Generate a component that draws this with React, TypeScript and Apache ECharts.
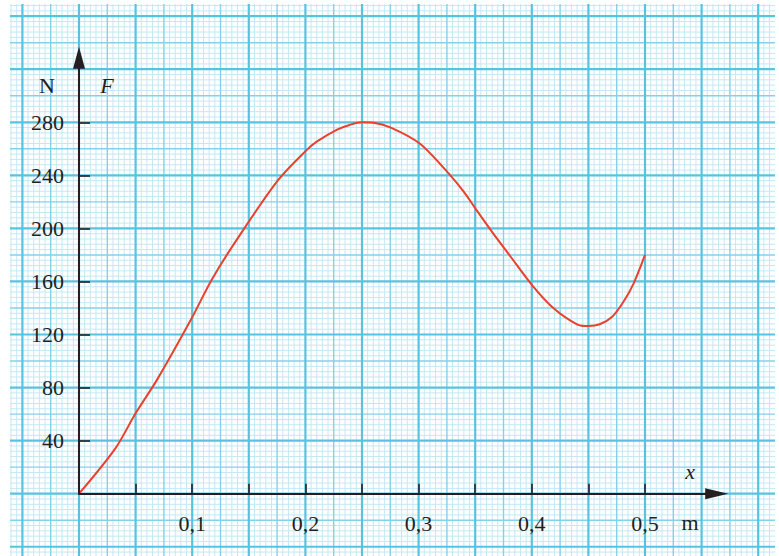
import React, { useEffect, useRef } from "react";
import * as echarts from "echarts";

// ---- data (x in m, F in N) ----
const X_M = [0, 0.032, 0.05, 0.069, 0.1, 0.117, 0.139, 0.176, 0.201, 0.21, 0.228, 0.239, 0.25, 0.26, 0.275, 0.301, 0.328, 0.34, 0.351, 0.366, 0.381, 0.4, 0.419, 0.44, 0.45, 0.46, 0.471, 0.481, 0.49, 0.5];
const F_N = [0, 34, 60.6, 86, 133, 161, 191, 236.5, 259, 265.4, 274.5, 278, 280, 279.7, 276.2, 264, 240, 227.5, 214, 196, 179, 157.5, 140, 127.7, 126.4, 127.7, 133.4, 144.7, 158.6, 180];
const Y_TICKS = [40, 80, 120, 160, 200, 240, 280];
const X_TICKS = [0.05, 0.1, 0.15, 0.2, 0.25, 0.3, 0.35, 0.4, 0.45, 0.5];
const X_LABELS = [0.1, 0.2, 0.3, 0.4, 0.5];

// ---- layout (pixels) ----
const ORIGIN_X = 79;
const ORIGIN_Y = 493.7;
const PX_PER_M = 1132;
const PX_PER_N = 1.3265;
const PAPER = { left: 10, top: 4, right: 775, bottom: 556 };
const X_ARROW_CENTER = 716.7;
const Y_ARROW_CENTER = 57.8;

const xOf = (px: number) => (px - ORIGIN_X) / PX_PER_M;
const yOf = (py: number) => (ORIGIN_Y - py) / PX_PER_N;

const P_XMIN = xOf(PAPER.left);
const P_XMAX = xOf(PAPER.right);
const P_YMIN = yOf(PAPER.bottom);
const P_YMAX = yOf(PAPER.top);

const LINE_COLORS = ["#c4e8f4", "#84d1ea", "#58c3e0"];
const LINE_WIDTHS = [1, 1.4, 2.2];
const INK = "#231f20";
const FONT = "Liberation Serif";
const FS = 22;

function buildPaper() {
  const out: number[][] = [];
  for (let k = Math.ceil(P_XMIN / 0.005); k * 0.005 <= P_XMAX; k++) {
    out.push([0, k * 0.005, k % 10 === 0 ? 2 : k % 5 === 0 ? 1 : 0]);
  }
  for (let k = Math.ceil(P_YMIN / 4); k * 4 <= P_YMAX; k++) {
    out.push([1, k * 4, k % 10 === 0 ? 2 : k % 5 === 0 ? 1 : 0]);
  }
  return out;
}

export default function App() {
  const ref = useRef<HTMLDivElement>(null);
  useEffect(() => {
    if (!ref.current) return;
    const chart = echarts.init(ref.current, null, { renderer: "svg" });
    const paper = buildPaper();
    const curve = X_M.map((x, i) => [x, F_N[i]]);
    const labelStyle = { fontFamily: FONT, fontSize: FS, color: INK };
    const txt = (text: string, x: number, y: number, italic: boolean) => ({
      type: "text",
      x,
      y,
      z: 20,
      style: {
        text,
        fontFamily: FONT,
        fontStyle: italic ? "italic" : "normal",
        fontSize: FS,
        fill: INK,
        align: "center",
        verticalAlign: "middle",
      },
    });
    chart.setOption({
      animation: false,
      backgroundColor: "#ffffff",
      grid: [
        {
          left: PAPER.left,
          top: PAPER.top,
          width: PAPER.right - PAPER.left,
          height: PAPER.bottom - PAPER.top,
          containLabel: false,
          outerBoundsMode: "none",
        },
        {
          left: ORIGIN_X,
          top: Y_ARROW_CENTER,
          width: X_ARROW_CENTER - ORIGIN_X,
          height: ORIGIN_Y - Y_ARROW_CENTER,
          containLabel: false,
          outerBoundsMode: "none",
        },
      ],
      xAxis: [
        { gridIndex: 0, type: "value", min: P_XMIN, max: P_XMAX, show: false },
        {
          gridIndex: 1,
          type: "value",
          min: 0,
          max: xOf(X_ARROW_CENTER),
          position: "bottom",
          z: 10,
          axisLine: {
            show: true,
            onZero: false,
            symbol: ["none", "triangle"],
            symbolSize: [11, 23],
            lineStyle: { color: INK, width: 2 },
          },
          axisTick: {
            show: true,
            inside: true,
            length: 10,
            customValues: X_TICKS,
            lineStyle: { color: INK, width: 1.6 },
          },
          axisLabel: {
            ...labelStyle,
            margin: 19,
            customValues: X_LABELS,
            formatter: (v: number) => v.toFixed(1).replace(".", ","),
          },
          splitLine: { show: false },
        },
      ],
      yAxis: [
        { gridIndex: 0, type: "value", min: P_YMIN, max: P_YMAX, show: false },
        {
          gridIndex: 1,
          type: "value",
          min: 0,
          max: yOf(Y_ARROW_CENTER),
          position: "left",
          z: 10,
          axisLine: {
            show: true,
            onZero: false,
            symbol: ["none", "triangle"],
            symbolSize: [12, 22],
            lineStyle: { color: INK, width: 2 },
          },
          axisTick: {
            show: true,
            inside: true,
            length: 11,
            customValues: Y_TICKS,
            lineStyle: { color: INK, width: 1.6 },
          },
          axisLabel: {
            ...labelStyle,
            margin: 15,
            customValues: Y_TICKS,
          },
          splitLine: { show: false },
        },
      ],
      series: [
        {
          type: "custom",
          xAxisIndex: 0,
          yAxisIndex: 0,
          silent: true,
          z: 0,
          data: paper,
          renderItem: (_p: any, api: any) => {
            const o = api.value(0);
            const v = api.value(1);
            const lvl = api.value(2);
            const a = o === 0 ? api.coord([v, P_YMIN]) : api.coord([P_XMIN, v]);
            const b = o === 0 ? api.coord([v, P_YMAX]) : api.coord([P_XMAX, v]);
            return {
              type: "line",
              z2: lvl,
              shape: { x1: a[0], y1: a[1], x2: b[0], y2: b[1] },
              style: { stroke: LINE_COLORS[lvl], lineWidth: LINE_WIDTHS[lvl] },
            };
          },
        },
        {
          type: "line",
          xAxisIndex: 1,
          yAxisIndex: 1,
          data: curve,
          showSymbol: false,
          smooth: 0.3,
          z: 5,
          lineStyle: { color: "#e8412c", width: 2 },
        },
      ],
      graphic: [
        txt("N", 47, 85, false),
        txt("F", 107, 85, true),
        txt("x", 690, 471, true),
        txt("m", 690, 522, false),
      ],
    });
    return () => chart.dispose();
  }, []);
  return <div ref={ref} style={{ position: "fixed", left: 0, top: 0, width: 779, height: 556 }} />;
}
